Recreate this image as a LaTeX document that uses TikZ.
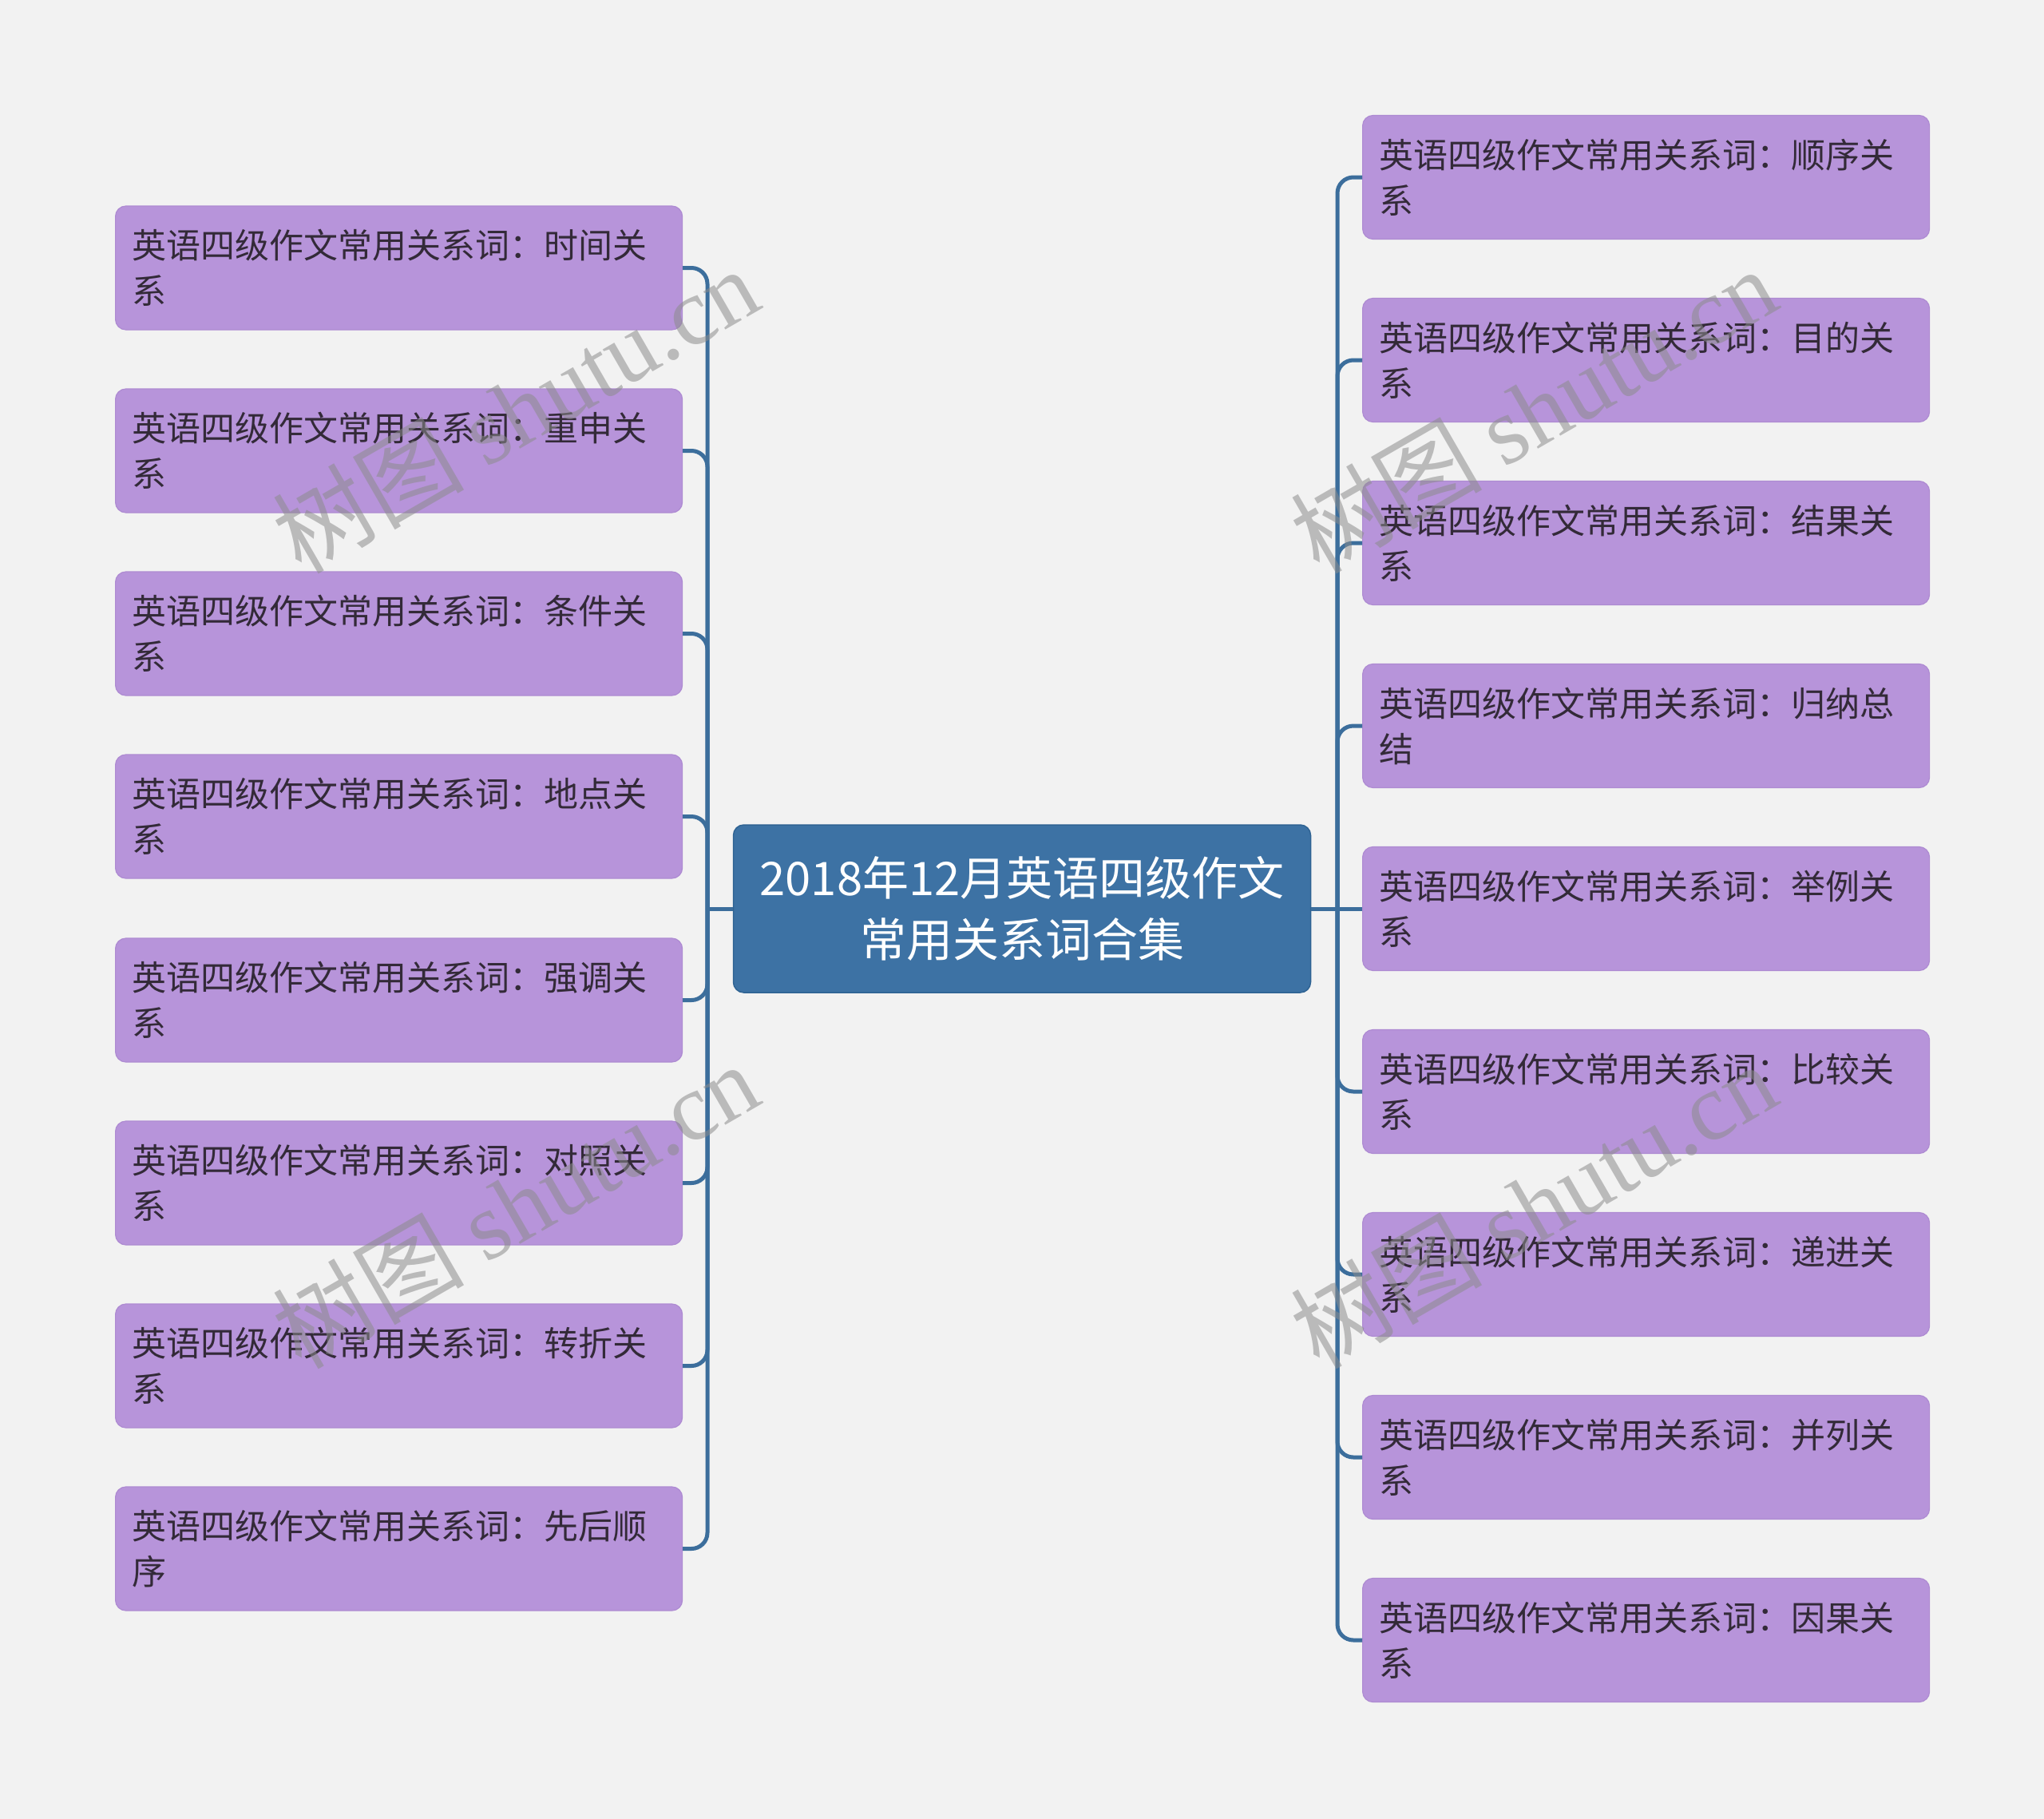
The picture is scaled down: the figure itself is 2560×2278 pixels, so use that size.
\documentclass[tikz,border=0pt]{standalone}
\usepackage{fontspec}
\setmainfont{Noto Sans CJK SC}
\newfontfamily\cjkf{Noto Sans CJK SC}
\newfontfamily\wmserif{Liberation Serif}
\definecolor{bgc}{HTML}{F2F2F2}
\definecolor{leaffill}{HTML}{B794DA}
\definecolor{leafdraw}{HTML}{AE8BD2}
\definecolor{leaftext}{HTML}{332A38}
\definecolor{rootfill}{HTML}{3D72A4}
\definecolor{rootdraw}{HTML}{2F6393}
\definecolor{linec}{HTML}{3C6E9C}
\definecolor{wmc}{HTML}{8C8C8C}
\tikzset{
  leaf/.style={draw=leafdraw, line width=1.2pt, fill=leaffill, rounded corners=13pt,
    minimum width=710pt, minimum height=155pt, text width=668pt, inner xsep=21pt,
    align=left, text=leaftext, font=\fontsize{43pt}{57pt}\selectfont, anchor=west},
  rootbox/.style={draw=rootdraw, line width=1.5pt, fill=rootfill, rounded corners=13pt,
    minimum width=723pt, minimum height=210pt, text width=700pt, align=center,
    text=white, font=\fontsize{58pt}{77pt}\selectfont},
  conn/.style={draw=linec, line width=5pt, rounded corners=20pt},
  wm/.style={text=wmc, opacity=0.55, rotate=30, font=\fontsize{120pt}{120pt}\selectfont}
}
\begin{document}
\begin{tikzpicture}[x=1pt,y=-1pt]
\fill[bgc] (0,0) rectangle (2560,2278);
\useasboundingbox (0,0) rectangle (2560,2278);

\node[rootbox] (root) at (1280,1138) {2018年12月英语四级作文\\常用关系词合集};
\coordinate (lbus) at (886,1138);
\coordinate (rbus) at (1675,1138);

% left leaves
\node[leaf] (l1) at (144,335.5) {英语四级作文常用关系词：时间关\\系};
\node[leaf] (l2) at (144,564.5) {英语四级作文常用关系词：重申关\\系};
\node[leaf] (l3) at (144,793.5) {英语四级作文常用关系词：条件关\\系};
\node[leaf] (l4) at (144,1022.5) {英语四级作文常用关系词：地点关\\系};
\node[leaf] (l5) at (144,1252.5) {英语四级作文常用关系词：强调关\\系};
\node[leaf] (l6) at (144,1481.5) {英语四级作文常用关系词：对照关\\系};
\node[leaf] (l7) at (144,1710.5) {英语四级作文常用关系词：转折关\\系};
\node[leaf] (l8) at (144,1939.5) {英语四级作文常用关系词：先后顺\\序};

% right leaves
\node[leaf] (r1) at (1706,222) {英语四级作文常用关系词：顺序关\\系};
\node[leaf] (r2) at (1706,451) {英语四级作文常用关系词：目的关\\系};
\node[leaf] (r3) at (1706,680) {英语四级作文常用关系词：结果关\\系};
\node[leaf] (r4) at (1706,909) {英语四级作文常用关系词：归纳总\\结};
\node[leaf] (r5) at (1706,1138) {英语四级作文常用关系词：举例关\\系};
\node[leaf] (r6) at (1706,1367) {英语四级作文常用关系词：比较关\\系};
\node[leaf] (r7) at (1706,1596) {英语四级作文常用关系词：递进关\\系};
\node[leaf] (r8) at (1706,1825) {英语四级作文常用关系词：并列关\\系};
\node[leaf] (r9) at (1706,2054) {英语四级作文常用关系词：因果关\\系};

% connectors
\draw[conn] (root.west) -- (lbus);
\foreach \n in {l1,l2,l3,l4,l5,l6,l7,l8}{
  \draw[conn] (\n.east) -| (lbus);
}
\draw[conn] (root.east) -- (r5.west);
\foreach \n in {r1,r2,r3,r4,r6,r7,r8,r9}{
  \draw[conn] (\n.west) -| (rbus);
}

% watermarks
\node[wm] (w1) at (645,513) {\cjkf 树图 \wmserif shutu.cn};
\node[wm] (w2) at (645,1509) {\cjkf 树图 \wmserif shutu.cn};
\node[wm] (w3) at (1920,513) {\cjkf 树图 \wmserif shutu.cn};
\node[wm] (w4) at (1920,1509) {\cjkf 树图 \wmserif shutu.cn};
\end{tikzpicture}
\end{document}
